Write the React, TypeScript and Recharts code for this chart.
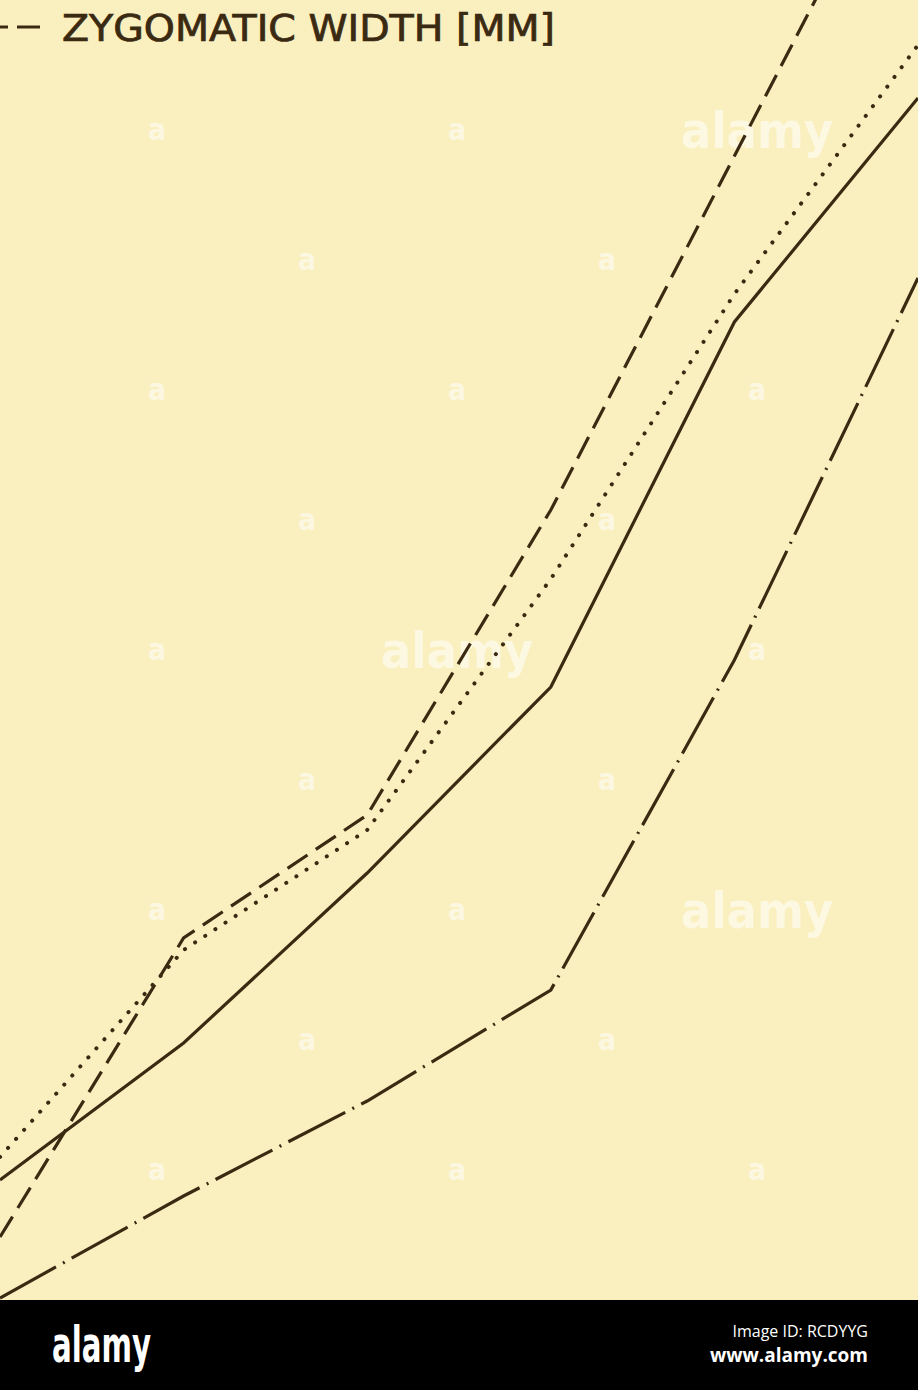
import React from 'react';
import { LineChart, Line, XAxis, YAxis, Customized } from 'recharts';

// Age stages (x categories, evenly spaced across the cropped plot)
const stages: string[] = ['I', 'II', 'III', 'IV', 'V', 'VI'];
// Series values (arbitrary plot units)
const solidSeries: number[] = [120, 257, 427, 613, 978, 1202];
const dashedSeries: number[] = [63, 362, 485, 790, 1144, 1498];
const dottedSeries: number[] = [143, 350, 470, 721, 1006, 1255];
const zygomaticWidth: number[] = [2, 104, 199, 310, 640, 1022];

const legendLabel = 'ZYGOMATIC WIDTH [MM]';

const data = stages.map((s, i) => ({
  stage: s,
  solid: solidSeries[i],
  dashed: dashedSeries[i],
  dotted: dottedSeries[i],
  zygomatic: zygomaticWidth[i],
}));

const INK = '#3b2a12';
const BG = '#faefbf';

const Decorations = () => {
  const marks: React.ReactNode[] = [];
  const bigMarks: Record<string, boolean> = { '0-2': true, '4-1': true, '6-2': true };
  for (let r = 0; r < 9; r++) {
    const y = 140 + r * 130;
    const cols = r % 2 === 0 ? [157, 457, 757] : [307, 607];
    cols.forEach((x, c) => {
      const big = bigMarks[`${r}-${c}`];
      marks.push(
        <text
          key={`${r}-${c}`}
          x={x}
          y={big ? y + 8 : y}
          textAnchor="middle"
          fontFamily="'DejaVu Sans Condensed', 'DejaVu Sans', sans-serif"
          fontWeight="bold"
          fontSize={big ? 50 : 30}
          fill="#ffffff"
          fillOpacity={0.55}
        >
          {big ? 'alamy' : 'a'}
        </text>
      );
    });
  }
  return (
    <g>
      {marks}
      <line x1={0} y1={27} x2={8} y2={27} stroke={INK} strokeWidth={3} />
      <line x1={17} y1={27} x2={40} y2={27} stroke={INK} strokeWidth={3} />
      <text
        x={62}
        y={41}
        fontFamily="'DejaVu Sans Condensed', 'DejaVu Sans', sans-serif"
        fontSize={37}
        fill={INK}
        stroke={INK}
        strokeWidth={0.7}
        textLength={493}
        lengthAdjust="spacingAndGlyphs"
      >
        {legendLabel}
      </text>
    </g>
  );
};

export default function App() {
  return (
    <div style={{ position: 'absolute', left: 0, top: 0, width: 918, height: 1390, background: '#000' }}>
      <div style={{ position: 'absolute', left: 0, top: 0, width: 918, height: 1300, background: BG }}>
        <LineChart width={918} height={1300} data={data} margin={{ top: 0, right: 0, bottom: 0, left: 0 }}>
          <XAxis dataKey="stage" hide padding={{ left: 0, right: 0 }} />
          <YAxis hide type="number" domain={[0, 1300]} allowDataOverflow />
          <Customized component={Decorations} />
          <Line type="linear" dataKey="solid" stroke={INK} strokeWidth={3.2} dot={false} activeDot={false} isAnimationActive={false} />
          <Line type="linear" dataKey="dashed" stroke={INK} strokeWidth={3.2} strokeDasharray="24 10" dot={false} activeDot={false} isAnimationActive={false} />
          <Line type="linear" dataKey="dotted" stroke={INK} strokeWidth={4} strokeLinecap="round" strokeDasharray="0.1 12" dot={false} activeDot={false} isAnimationActive={false} />
          <Line type="linear" dataKey="zygomatic" name={legendLabel} stroke={INK} strokeWidth={3.2} strokeDasharray="64 8 2 8" dot={false} activeDot={false} isAnimationActive={false} />
        </LineChart>
      </div>
      <svg width={918} height={90} style={{ position: 'absolute', left: 0, top: 1300 }}>
        <text x={52} y={62} fontFamily="'DejaVu Sans Condensed', 'DejaVu Sans', sans-serif" fontWeight="bold" fontSize={50} fill="#fff" textLength={99} lengthAdjust="spacingAndGlyphs">alamy</text>
        <text x={868} y={37} textAnchor="end" fontFamily="'Open Sans', sans-serif" fontSize={16} fill="#fff">Image ID: RCDYYG</text>
        <text x={868} y={62} textAnchor="end" fontFamily="'Open Sans', sans-serif" fontWeight="bold" fontSize={19} fill="#fff">www.alamy.com</text>
      </svg>
    </div>
  );
}
